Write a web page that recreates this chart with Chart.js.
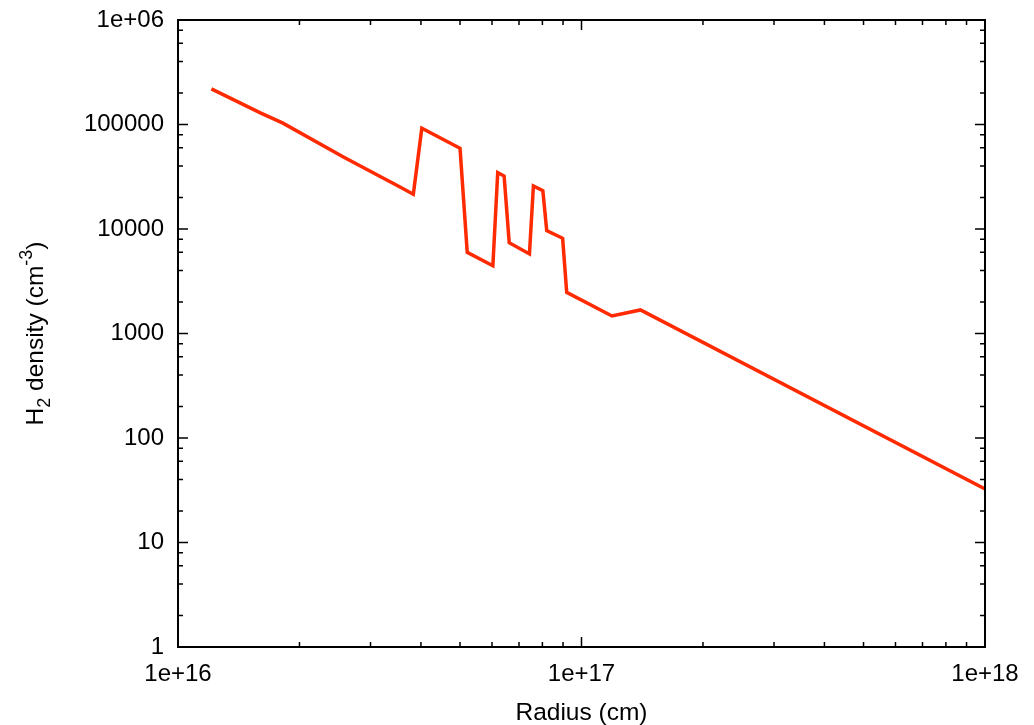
<!DOCTYPE html>
<html>
<head>
<meta charset="utf-8">
<script src="https://cdn.jsdelivr.net/npm/chart.js@4.4.0/dist/chart.umd.min.js"></script>
<style>
  html, body { margin: 0; padding: 0; background: #fff; }
  #wrap { width: 1034px; height: 725px; }
</style>
</head>
<body>
<div id="wrap"><canvas id="myChart" width="1034" height="725"></canvas></div>
<script>
// radius (cm) and H2 density (cm^-3)
var radius = [1.21e16, 1.60e16, 1.82e16, 2.57e16, 3.55e16, 3.83e16, 4.02e16, 5.00e16,
              5.21e16, 6.03e16, 6.20e16, 6.43e16, 6.62e16, 7.43e16, 7.60e16, 8.02e16,
              8.20e16, 8.98e16, 9.19e16, 1.19e17, 1.40e17, 1.0e18];
var density = [2.19e5, 1.29e5, 1.03e5, 4.89e4, 2.52e4, 2.15e4, 9.2e4, 5.92e4,
               5.98e3, 4.45e3, 3.46e4, 3.21e4, 7.4e3, 5.77e3, 2.58e4, 2.33e4,
               9.64e3, 8.15e3, 2.48e3, 1.47e3, 1.68e3, 32.5];

var xTickValues = [1e16, 1e17, 1e18];
var xTickLabels = ["1e+16", "1e+17", "1e+18"];
var yTickValues = [1, 10, 100, 1000, 10000, 100000, 1000000];
var yTickLabels = ["1", "10", "100", "1000", "10000", "100000", "1e+06"];
var xMinor = [2, 3, 4, 5, 6, 7, 8, 9];
var yMinor = [2, 4, 6, 8];

var points = radius.map(function (r, i) { return {x: r, y: density[i]}; });
var fontFam = '"Liberation Sans", Arial, Helvetica, sans-serif';

// gnuplot-like frame with inward ticks on all four sides
var frameTicks = {
  id: "frameTicks",
  afterDraw: function (chart) {
    var ctx = chart.ctx, a = chart.chartArea;
    var xs = chart.scales.x, ys = chart.scales.y;
    ctx.save();
    ctx.strokeStyle = "#000";
    ctx.lineWidth = 1.5;
    ctx.beginPath();
    function vt(px, len) {
      ctx.moveTo(px, a.bottom); ctx.lineTo(px, a.bottom - len);
      ctx.moveTo(px, a.top); ctx.lineTo(px, a.top + len);
    }
    function ht(py, len) {
      ctx.moveTo(a.left, py); ctx.lineTo(a.left + len, py);
      ctx.moveTo(a.right, py); ctx.lineTo(a.right - len, py);
    }
    xTickValues.forEach(function (v, i) {
      vt(xs.getPixelForValue(v), 10);
      if (i < xTickValues.length - 1) {
        xMinor.forEach(function (m) { vt(xs.getPixelForValue(v * m), 5); });
      }
    });
    yTickValues.forEach(function (v, i) {
      ht(ys.getPixelForValue(v), 10);
      if (i < yTickValues.length - 1) {
        yMinor.forEach(function (m) { ht(ys.getPixelForValue(v * m), 5); });
      }
    });
    ctx.stroke();
    ctx.lineWidth = 2;
    ctx.strokeRect(a.left, a.top, a.right - a.left, a.bottom - a.top);

    // y axis title with subscript / superscript
    ctx.fillStyle = "#000";
    ctx.translate(43, (a.top + a.bottom) / 2);
    ctx.rotate(-Math.PI / 2);
    var big = "24.5px " + fontFam, small = "18px " + fontFam;
    var parts = [["H", big, 0], ["2", small, 7], [" density (cm", big, 0], ["-3", small, -11], [")", big, 0]];
    var w = 0;
    parts.forEach(function (p) { ctx.font = p[1]; w += ctx.measureText(p[0]).width; });
    var x = -w / 2;
    ctx.textBaseline = "alphabetic";
    parts.forEach(function (p) {
      ctx.font = p[1];
      ctx.fillText(p[0], x, p[2]);
      x += ctx.measureText(p[0]).width;
    });
    ctx.restore();
  }
};

new Chart("myChart", {
  type: "line",
  data: {
    datasets: [{
      data: points,
      borderColor: "#ff2a00",
      borderWidth: 3.5,
      pointRadius: 0,
      tension: 0,
      fill: false
    }]
  },
  options: {
    responsive: false,
    animation: false,
    layout: {padding: {top: 20, right: 49, left: 0, bottom: 0}},
    plugins: {legend: {display: false}, tooltip: {enabled: false}},
    scales: {
      x: {
        type: "logarithmic",
        min: 1e16, max: 1e18,
        grid: {display: false, drawTicks: false},
        border: {display: false},
        afterBuildTicks: function (s) { s.ticks = xTickValues.map(function (v) { return {value: v}; }); },
        afterFit: function (s) { s.height = 78; s.paddingLeft = 0; s.paddingRight = 0; },
        ticks: {
          autoSkip: false, maxRotation: 0, padding: 13, color: "#000",
          font: {family: fontFam, size: 24},
          callback: function (v, i) { return xTickLabels[i]; }
        },
        title: {display: true, text: "Radius (cm)", color: "#000", padding: {top: 0, bottom: -3},
                font: {family: fontFam, size: 24.5}}
      },
      y: {
        type: "logarithmic",
        min: 1, max: 1e6,
        grid: {display: false, drawTicks: false},
        border: {display: false},
        afterBuildTicks: function (s) { s.ticks = yTickValues.map(function (v) { return {value: v}; }); },
        afterFit: function (s) { s.width = 178; s.paddingTop = 0; s.paddingBottom = 0; },
        ticks: {
          autoSkip: false, padding: 14, color: "#000",
          font: {family: fontFam, size: 24},
          callback: function (v, i) { return yTickLabels[i]; }
        }
      }
    }
  },
  plugins: [frameTicks]
});
</script>
</body>
</html>
